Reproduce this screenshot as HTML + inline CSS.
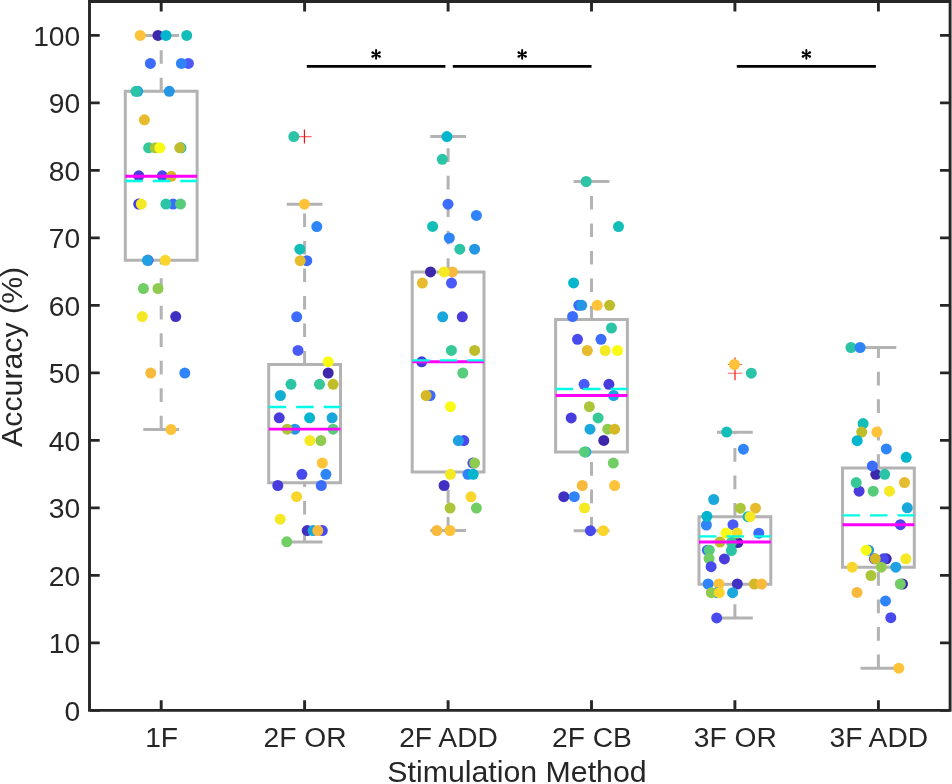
<!DOCTYPE html>
<html><head><meta charset="utf-8"><title>Accuracy by Stimulation Method</title>
<style>
html,body{margin:0;padding:0;background:#fff;}
body{width:952px;height:784px;overflow:hidden;}
svg{display:block;will-change:transform;}
text{font-family:"Liberation Sans",sans-serif;fill:#262626;}
</style></head><body>
<svg width="952" height="784" viewBox="0 0 952 784">
<rect width="952" height="784" fill="#fff"/>
<path d="M125.3 260.2V91.3H197.1V260.2ZM143.3 35.4H179.1M143.3 429.4H179.1M268.7 482.7V364.6H340.5V482.7ZM286.7 204.2H322.5M286.7 542.1H322.5M412.2 471.9V271.9H484V471.9ZM430.2 136.6H466M430.2 530.5H466M555.6 451.9V319.6H627.4V451.9ZM573.6 181.5H609.4M573.6 530.7H609.4M699 584.2V516.7H770.8V584.2ZM717 432.3H752.8M717 617.9H752.8M842.5 567.2V467.9H914.3V567.2ZM860.5 347.5H896.3M860.5 668.2H896.3" fill="none" stroke="#b3b3b3" stroke-width="3" stroke-linejoin="miter"/>
<path d="M161.2 91.3V77.7M161.2 63.8V50.2M161.2 36.3V35.4M161.2 429.4V415.8M161.2 401.9V388.3M161.2 374.4V360.8M161.2 346.9V333.3M161.2 319.4V305.8M161.2 291.9V278.3M161.2 264.4V260.2M304.6 364.6V351M304.6 337.1V323.5M304.6 309.6V296M304.6 282.1V268.5M304.6 254.6V241M304.6 227.1V213.5M304.6 542.1V528.5M304.6 514.6V501M304.6 487.1V482.7M448.1 271.9V258.3M448.1 244.4V230.8M448.1 216.9V203.3M448.1 189.4V175.8M448.1 161.9V148.3M448.1 530.5V516.9M448.1 503V489.4M448.1 475.5V471.9M591.5 319.6V306M591.5 292.1V278.5M591.5 264.6V251M591.5 237.1V223.5M591.5 209.6V196M591.5 182.1V181.5M591.5 530.7V517.1M591.5 503.2V489.6M591.5 475.7V462.1M734.9 516.7V503.1M734.9 489.2V475.6M734.9 461.7V448.1M734.9 434.2V432.3M734.9 617.9V604.3M734.9 590.4V584.2M878.4 467.9V454.3M878.4 440.4V426.8M878.4 412.9V399.3M878.4 385.4V371.8M878.4 357.9V347.5M878.4 668.2V654.6M878.4 640.7V627.1M878.4 613.2V599.6M878.4 585.7V572.1" fill="none" stroke="#b3b3b3" stroke-width="3"/>
<path d="M304.4 129.6V143.6M735 357.5V371.5M735 366.2V380.2" fill="none" stroke="#ff0000" stroke-width="1.1"/>
<path d="M297.2 136.6H311.6M727.8 364.5H742.2M727.8 373.2H742.2" fill="none" stroke="#ff0000" stroke-opacity="0.6" stroke-width="1.1"/>
<g>
<circle cx="140.2" cy="35.4" r="5.5" fill="#fec338"/><circle cx="158" cy="35.4" r="5.5" fill="#3e27aa"/><circle cx="166" cy="35.4" r="5.5" fill="#04b6cd"/><circle cx="186.7" cy="35.4" r="5.5" fill="#14beb8"/><circle cx="150.4" cy="63.4" r="5.5" fill="#3c6cfc"/><circle cx="188.4" cy="63.4" r="5.5" fill="#4a5af6"/><circle cx="181.4" cy="63.4" r="5.5" fill="#2e84f8"/><circle cx="137.7" cy="91.3" r="5.5" fill="#1fa0e2"/><circle cx="135.9" cy="91.3" r="5.5" fill="#2cc4a7"/><circle cx="169.3" cy="91.3" r="5.5" fill="#2596e4"/><circle cx="144.4" cy="119.8" r="5.5" fill="#e6bb2d"/><circle cx="148.6" cy="147.8" r="5.5" fill="#37c897"/><circle cx="155.2" cy="147.8" r="5.5" fill="#abc739"/><circle cx="159.8" cy="147.8" r="5.5" fill="#f9fb15"/><circle cx="181" cy="147.8" r="5.5" fill="#14beb8"/><circle cx="179.8" cy="147.8" r="5.5" fill="#bfbd2a"/><circle cx="138.8" cy="175.8" r="5.5" fill="#483cdc"/><circle cx="162.3" cy="175.8" r="5.5" fill="#484aee"/><circle cx="171.3" cy="176.3" r="5.5" fill="#d4b826"/><circle cx="138.7" cy="204.1" r="5.5" fill="#483cdc"/><circle cx="141.3" cy="204.1" r="5.5" fill="#f5e924"/><circle cx="173.1" cy="204.1" r="5.5" fill="#3c6cfc"/><circle cx="165.9" cy="204.1" r="5.5" fill="#2cc4a7"/><circle cx="180.5" cy="204.1" r="5.5" fill="#57cc7a"/><circle cx="148.1" cy="260.3" r="5.5" fill="#484aee"/><circle cx="147.4" cy="260.3" r="5.5" fill="#1fa0e2"/><circle cx="165.3" cy="260.3" r="5.5" fill="#fad62d"/><circle cx="143.4" cy="288.5" r="5.5" fill="#72cd64"/><circle cx="158" cy="288.5" r="5.5" fill="#8fcb4e"/><circle cx="142.3" cy="316.6" r="5.5" fill="#f5e924"/><circle cx="175.7" cy="316.6" r="5.5" fill="#4131c2"/><circle cx="150.7" cy="373.1" r="5.5" fill="#f8ba3d"/><circle cx="184.8" cy="373.1" r="5.5" fill="#2e84f8"/><circle cx="171" cy="429.5" r="5.5" fill="#fec338"/><circle cx="293.8" cy="136.6" r="5.5" fill="#2cc4a7"/><circle cx="304.4" cy="204.2" r="5.5" fill="#fec338"/><circle cx="316.8" cy="226.6" r="5.5" fill="#2e84f8"/><circle cx="299.8" cy="249.2" r="5.5" fill="#14beb8"/><circle cx="306.8" cy="260.7" r="5.5" fill="#3c6cfc"/><circle cx="300.2" cy="260.7" r="5.5" fill="#e6bb2d"/><circle cx="296.7" cy="316.8" r="5.5" fill="#3c6cfc"/><circle cx="298" cy="350.4" r="5.5" fill="#4a5af6"/><circle cx="328.2" cy="361.7" r="5.5" fill="#f9fb15"/><circle cx="328.2" cy="373" r="5.5" fill="#3e27aa"/><circle cx="291" cy="384.3" r="5.5" fill="#2cc4a7"/><circle cx="319.5" cy="384.3" r="5.5" fill="#37c897"/><circle cx="333.1" cy="384.3" r="5.5" fill="#bfbd2a"/><circle cx="280.4" cy="395.5" r="5.5" fill="#12aed4"/><circle cx="279.2" cy="417.8" r="5.5" fill="#483cdc"/><circle cx="309.6" cy="417.8" r="5.5" fill="#04b6cd"/><circle cx="332.1" cy="417.8" r="5.5" fill="#1aa8dc"/><circle cx="294.9" cy="429.2" r="5.5" fill="#2596e4"/><circle cx="287.2" cy="429.2" r="5.5" fill="#abc739"/><circle cx="333.1" cy="429.2" r="5.5" fill="#57cc7a"/><circle cx="309.9" cy="440.6" r="5.5" fill="#f5e924"/><circle cx="320.9" cy="440.6" r="5.5" fill="#8fcb4e"/><circle cx="322.3" cy="463" r="5.5" fill="#fec338"/><circle cx="301.9" cy="474.3" r="5.5" fill="#484aee"/><circle cx="325.9" cy="474.3" r="5.5" fill="#2e84f8"/><circle cx="277.8" cy="485.5" r="5.5" fill="#483cdc"/><circle cx="321.3" cy="485.5" r="5.5" fill="#3c6cfc"/><circle cx="296.6" cy="496.7" r="5.5" fill="#fad62d"/><circle cx="280.2" cy="519.2" r="5.5" fill="#f5e924"/><circle cx="307.2" cy="530.6" r="5.5" fill="#4131c2"/><circle cx="313.1" cy="530.6" r="5.5" fill="#1aa8dc"/><circle cx="322.3" cy="530.6" r="5.5" fill="#484aee"/><circle cx="317.8" cy="530.6" r="5.5" fill="#f8ba3d"/><circle cx="286.8" cy="541.8" r="5.5" fill="#72cd64"/><circle cx="446.9" cy="136.6" r="5.5" fill="#04b6cd"/><circle cx="442.3" cy="159.3" r="5.5" fill="#2cc4a7"/><circle cx="448" cy="204.2" r="5.5" fill="#3c6cfc"/><circle cx="476.4" cy="215.4" r="5.5" fill="#2e84f8"/><circle cx="432.6" cy="226.4" r="5.5" fill="#14beb8"/><circle cx="449.3" cy="238" r="5.5" fill="#2e84f8"/><circle cx="459.8" cy="249.2" r="5.5" fill="#2cc4a7"/><circle cx="474.6" cy="249.2" r="5.5" fill="#2596e4"/><circle cx="430.5" cy="271.9" r="5.5" fill="#3e27aa"/><circle cx="452.5" cy="271.9" r="5.5" fill="#f8ba3d"/><circle cx="444.1" cy="271.9" r="5.5" fill="#f5e924"/><circle cx="422.4" cy="283.1" r="5.5" fill="#e6bb2d"/><circle cx="451.5" cy="283.1" r="5.5" fill="#4a5af6"/><circle cx="442.7" cy="316.8" r="5.5" fill="#1aa8dc"/><circle cx="462.3" cy="316.8" r="5.5" fill="#483cdc"/><circle cx="451.4" cy="350.4" r="5.5" fill="#37c897"/><circle cx="474.6" cy="350.4" r="5.5" fill="#bfbd2a"/><circle cx="421.7" cy="361.8" r="5.5" fill="#483cdc"/><circle cx="462.8" cy="373" r="5.5" fill="#57cc7a"/><circle cx="430.1" cy="395.5" r="5.5" fill="#3c6cfc"/><circle cx="426.1" cy="395.5" r="5.5" fill="#d4b826"/><circle cx="450.4" cy="406.7" r="5.5" fill="#f9fb15"/><circle cx="463.8" cy="440.6" r="5.5" fill="#484aee"/><circle cx="458.4" cy="440.6" r="5.5" fill="#1fa0e2"/><circle cx="472.9" cy="463.1" r="5.5" fill="#484aee"/><circle cx="474.6" cy="463.1" r="5.5" fill="#8fcb4e"/><circle cx="450.4" cy="474.3" r="5.5" fill="#f5e924"/><circle cx="468" cy="474.3" r="5.5" fill="#2e84f8"/><circle cx="473.2" cy="474.3" r="5.5" fill="#04b6cd"/><circle cx="444.1" cy="485.5" r="5.5" fill="#4131c2"/><circle cx="471" cy="496.8" r="5.5" fill="#fad62d"/><circle cx="450.1" cy="508.1" r="5.5" fill="#abc739"/><circle cx="476.4" cy="508.1" r="5.5" fill="#72cd64"/><circle cx="436.8" cy="530.5" r="5.5" fill="#f8ba3d"/><circle cx="450" cy="530.5" r="5.5" fill="#fec338"/><circle cx="586.2" cy="181.5" r="5.5" fill="#2cc4a7"/><circle cx="618.5" cy="226.6" r="5.5" fill="#14beb8"/><circle cx="573.6" cy="282.9" r="5.5" fill="#04b6cd"/><circle cx="578.8" cy="305.3" r="5.5" fill="#3c6cfc"/><circle cx="581.7" cy="305.3" r="5.5" fill="#2596e4"/><circle cx="597.2" cy="305.3" r="5.5" fill="#fec338"/><circle cx="609.6" cy="305.3" r="5.5" fill="#bfbd2a"/><circle cx="572.6" cy="316.5" r="5.5" fill="#3c6cfc"/><circle cx="611.5" cy="328" r="5.5" fill="#2cc4a7"/><circle cx="577.5" cy="339.3" r="5.5" fill="#484aee"/><circle cx="601" cy="339.3" r="5.5" fill="#3c6cfc"/><circle cx="587.3" cy="350.5" r="5.5" fill="#e6bb2d"/><circle cx="605.2" cy="350.5" r="5.5" fill="#f5e924"/><circle cx="617.5" cy="350.5" r="5.5" fill="#f9fb15"/><circle cx="584.1" cy="384.3" r="5.5" fill="#4a5af6"/><circle cx="608.9" cy="384.3" r="5.5" fill="#483cdc"/><circle cx="613.6" cy="395.5" r="5.5" fill="#1fa0e2"/><circle cx="589.4" cy="406.7" r="5.5" fill="#abc739"/><circle cx="571.2" cy="417.9" r="5.5" fill="#483cdc"/><circle cx="598.1" cy="417.9" r="5.5" fill="#37c897"/><circle cx="590" cy="429.2" r="5.5" fill="#1aa8dc"/><circle cx="607.7" cy="429.2" r="5.5" fill="#8fcb4e"/><circle cx="614.6" cy="429.2" r="5.5" fill="#d4b826"/><circle cx="603.8" cy="440.4" r="5.5" fill="#3e27aa"/><circle cx="585.8" cy="451.9" r="5.5" fill="#1aa8dc"/><circle cx="584.5" cy="451.9" r="5.5" fill="#57cc7a"/><circle cx="613.3" cy="463.1" r="5.5" fill="#72cd64"/><circle cx="582.3" cy="485.5" r="5.5" fill="#f8ba3d"/><circle cx="614.6" cy="485.5" r="5.5" fill="#fec338"/><circle cx="563.8" cy="496.7" r="5.5" fill="#4131c2"/><circle cx="574.3" cy="496.7" r="5.5" fill="#2e84f8"/><circle cx="584.5" cy="507.9" r="5.5" fill="#f5e924"/><circle cx="590.4" cy="530.7" r="5.5" fill="#484aee"/><circle cx="603.3" cy="530.7" r="5.5" fill="#fad62d"/><circle cx="734.4" cy="364.5" r="5.5" fill="#fec338"/><circle cx="751.3" cy="373.2" r="5.5" fill="#2cc4a7"/><circle cx="726.7" cy="432.1" r="5.5" fill="#14beb8"/><circle cx="743.4" cy="449.2" r="5.5" fill="#2e84f8"/><circle cx="713.7" cy="499.5" r="5.5" fill="#1aa8dc"/><circle cx="740.4" cy="508.2" r="5.5" fill="#abc739"/><circle cx="755.5" cy="508.2" r="5.5" fill="#e6bb2d"/><circle cx="706.4" cy="525" r="5.5" fill="#2e84f8"/><circle cx="706.9" cy="516.3" r="5.5" fill="#04b6cd"/><circle cx="748" cy="516.7" r="5.5" fill="#04b6cd"/><circle cx="750.1" cy="516.7" r="5.5" fill="#f5e924"/><circle cx="733" cy="524.7" r="5.5" fill="#4a5af6"/><circle cx="720" cy="542" r="5.5" fill="#bfbd2a"/><circle cx="737.8" cy="542.6" r="5.5" fill="#3e27aa"/><circle cx="731.5" cy="542.3" r="5.5" fill="#37c897"/><circle cx="737.1" cy="533" r="5.5" fill="#f3de26"/><circle cx="726.1" cy="533" r="5.5" fill="#f9fb15"/><circle cx="758.8" cy="533.2" r="5.5" fill="#3c6cfc"/><circle cx="731.4" cy="550.5" r="5.5" fill="#2cc4a7"/><circle cx="707.3" cy="550.2" r="5.5" fill="#3c6cfc"/><circle cx="709.3" cy="550.2" r="5.5" fill="#57cc7a"/><circle cx="709.1" cy="558.6" r="5.5" fill="#72cd64"/><circle cx="724.4" cy="558.9" r="5.5" fill="#483cdc"/><circle cx="711.1" cy="566.7" r="5.5" fill="#484aee"/><circle cx="708.1" cy="584" r="5.5" fill="#2e84f8"/><circle cx="719" cy="584" r="5.5" fill="#fec338"/><circle cx="737.3" cy="584" r="5.5" fill="#4131c2"/><circle cx="754.4" cy="584" r="5.5" fill="#d4b826"/><circle cx="761.6" cy="584" r="5.5" fill="#f8ba3d"/><circle cx="717" cy="592.7" r="5.5" fill="#1aa8dc"/><circle cx="711.3" cy="592.7" r="5.5" fill="#8fcb4e"/><circle cx="719.3" cy="592.7" r="5.5" fill="#fad62d"/><circle cx="732.6" cy="592.7" r="5.5" fill="#1aa8dc"/><circle cx="716.7" cy="617.9" r="5.5" fill="#484aee"/><circle cx="851" cy="347.5" r="5.5" fill="#2cc4a7"/><circle cx="860.1" cy="347.5" r="5.5" fill="#2e84f8"/><circle cx="863.1" cy="423.6" r="5.5" fill="#14beb8"/><circle cx="861.7" cy="432.1" r="5.5" fill="#bfbd2a"/><circle cx="876.9" cy="432.1" r="5.5" fill="#fec338"/><circle cx="857.2" cy="440.7" r="5.5" fill="#04b6cd"/><circle cx="886.3" cy="448.9" r="5.5" fill="#2e84f8"/><circle cx="906.2" cy="457.3" r="5.5" fill="#04b6cd"/><circle cx="875.8" cy="474.3" r="5.5" fill="#3e27aa"/><circle cx="872.3" cy="465.9" r="5.5" fill="#3c6cfc"/><circle cx="884.7" cy="474.3" r="5.5" fill="#2cc4a7"/><circle cx="859.1" cy="491.2" r="5.5" fill="#483cdc"/><circle cx="856.2" cy="482.6" r="5.5" fill="#37c897"/><circle cx="904.5" cy="482.6" r="5.5" fill="#e6bb2d"/><circle cx="873.2" cy="491.2" r="5.5" fill="#57cc7a"/><circle cx="889.5" cy="491.2" r="5.5" fill="#f5e924"/><circle cx="907.3" cy="507.8" r="5.5" fill="#1aa8dc"/><circle cx="900.4" cy="524.7" r="5.5" fill="#484aee"/><circle cx="868.6" cy="550.2" r="5.5" fill="#2596e4"/><circle cx="866.2" cy="550.2" r="5.5" fill="#f9fb15"/><circle cx="886.2" cy="558.8" r="5.5" fill="#3e27aa"/><circle cx="883.5" cy="558.8" r="5.5" fill="#484aee"/><circle cx="874.4" cy="558.8" r="5.5" fill="#484aee"/><circle cx="875.3" cy="558.8" r="5.5" fill="#d4b826"/><circle cx="905.9" cy="558.8" r="5.5" fill="#f5e924"/><circle cx="852.2" cy="567.2" r="5.5" fill="#fad62d"/><circle cx="881.3" cy="567.2" r="5.5" fill="#8fcb4e"/><circle cx="895.8" cy="567.2" r="5.5" fill="#1fa0e2"/><circle cx="871" cy="575.5" r="5.5" fill="#abc739"/><circle cx="902.5" cy="584" r="5.5" fill="#3e27aa"/><circle cx="900.3" cy="584" r="5.5" fill="#72cd64"/><circle cx="857" cy="592.4" r="5.5" fill="#f8ba3d"/><circle cx="885.5" cy="600.9" r="5.5" fill="#2e84f8"/><circle cx="890.8" cy="617.7" r="5.5" fill="#484aee"/><circle cx="898.8" cy="668.2" r="5.5" fill="#fec338"/>
</g>
<path d="M125.3 176.3H197.1M268.7 429.1H340.5M412.2 361.8H484M555.6 395.5H627.4M699 542H770.8M842.5 524.7H914.3" fill="none" stroke="#ff00ff" stroke-width="2.9"/>
<path d="M125.3 181H142.8M152.8 181H170.3M180.3 181H197.1M268.7 407H286.2M296.2 407H313.7M323.7 407H340.5M412.2 360.4H429.7M439.7 360.4H457.2M467.2 360.4H484M555.6 389H573.1M583.1 389H600.6M610.6 389H627.4M699 536.4H716.5M726.5 536.4H744M754 536.4H770.8M842.5 515.3H860M870 515.3H887.5M897.5 515.3H914.3" fill="none" stroke="#00fce4" stroke-width="2.3"/>
<path d="M306.8 66.4H445.4M452.8 66.4H591.5M736.8 66.4H875.9" stroke="#000" stroke-width="2.9" fill="none"/>
<path d="M376.1 50.05V58.85M522.15 50.05V58.85M806.35 50.05V58.85" stroke="#000" stroke-width="1.95" stroke-linecap="round" fill="none"/>
<path d="M376.1 54.45L379.56 52.45M376.1 54.45L372.64 52.45M376.1 54.45L372.64 56.45M376.1 54.45L379.56 56.45M522.15 54.45L525.61 52.45M522.15 54.45L518.69 52.45M522.15 54.45L518.69 56.45M522.15 54.45L525.61 56.45M806.35 54.45L809.81 52.45M806.35 54.45L802.89 52.45M806.35 54.45L802.89 56.45M806.35 54.45L809.81 56.45" stroke="#000" stroke-width="1.6" fill="none"/>
<g fill="#000"><circle cx="379.56" cy="52.45" r="1.22"/><circle cx="372.64" cy="52.45" r="1.22"/><circle cx="372.64" cy="56.45" r="1.22"/><circle cx="379.56" cy="56.45" r="1.22"/><circle cx="525.61" cy="52.45" r="1.22"/><circle cx="518.69" cy="52.45" r="1.22"/><circle cx="518.69" cy="56.45" r="1.22"/><circle cx="525.61" cy="56.45" r="1.22"/><circle cx="809.81" cy="52.45" r="1.22"/><circle cx="802.89" cy="52.45" r="1.22"/><circle cx="802.89" cy="56.45" r="1.22"/><circle cx="809.81" cy="56.45" r="1.22"/></g>
<path d="M89.5 1.5H950.1V710.4H89.5Z" fill="none" stroke="#262626" stroke-width="2.9" stroke-linejoin="miter"/>
<path d="M90 710.4H99.7M949.6 710.4H940M90 642.9H99.7M949.6 642.9H940M90 575.4H99.7M949.6 575.4H940M90 507.9H99.7M949.6 507.9H940M90 440.4H99.7M949.6 440.4H940M90 372.9H99.7M949.6 372.9H940M90 305.4H99.7M949.6 305.4H940M90 237.9H99.7M949.6 237.9H940M90 170.4H99.7M949.6 170.4H940M90 102.9H99.7M949.6 102.9H940M90 35.4H99.7M949.6 35.4H940M161.2 710V700.3M161.2 2V11.6M304.6 710V700.3M304.6 2V11.6M448.1 710V700.3M448.1 2V11.6M591.5 710V700.3M591.5 2V11.6M734.9 710V700.3M734.9 2V11.6M878.4 710V700.3M878.4 2V11.6" fill="none" stroke="#262626" stroke-width="2.9" stroke-linecap="butt"/>
<text x="80.2" y="720.9" font-size="28.2" text-anchor="end">0</text>
<text x="80.2" y="653.4" font-size="28.2" text-anchor="end">10</text>
<text x="80.2" y="585.9" font-size="28.2" text-anchor="end">20</text>
<text x="80.2" y="518.4" font-size="28.2" text-anchor="end">30</text>
<text x="80.2" y="450.9" font-size="28.2" text-anchor="end">40</text>
<text x="80.2" y="383.4" font-size="28.2" text-anchor="end">50</text>
<text x="80.2" y="315.9" font-size="28.2" text-anchor="end">60</text>
<text x="80.2" y="248.4" font-size="28.2" text-anchor="end">70</text>
<text x="80.2" y="180.9" font-size="28.2" text-anchor="end">80</text>
<text x="80.2" y="113.4" font-size="28.2" text-anchor="end">90</text>
<text x="80.2" y="45.9" font-size="28.2" text-anchor="end">100</text>
<text x="161.6" y="747.3" font-size="28.2" text-anchor="middle">1F</text>
<text x="305" y="747.3" font-size="28.2" text-anchor="middle">2F OR</text>
<text x="448.5" y="747.3" font-size="28.2" text-anchor="middle">2F ADD</text>
<text x="591.9" y="747.3" font-size="28.2" text-anchor="middle">2F CB</text>
<text x="735.3" y="747.3" font-size="28.2" text-anchor="middle">3F OR</text>
<text x="878.8" y="747.3" font-size="28.2" text-anchor="middle">3F ADD</text>
<text x="517" y="782" font-size="30.3" text-anchor="middle">Stimulation Method</text>
<text transform="translate(22,356.9) rotate(-90)" font-size="30.3" text-anchor="middle">Accuracy (%)</text>
</svg>
</body></html>
